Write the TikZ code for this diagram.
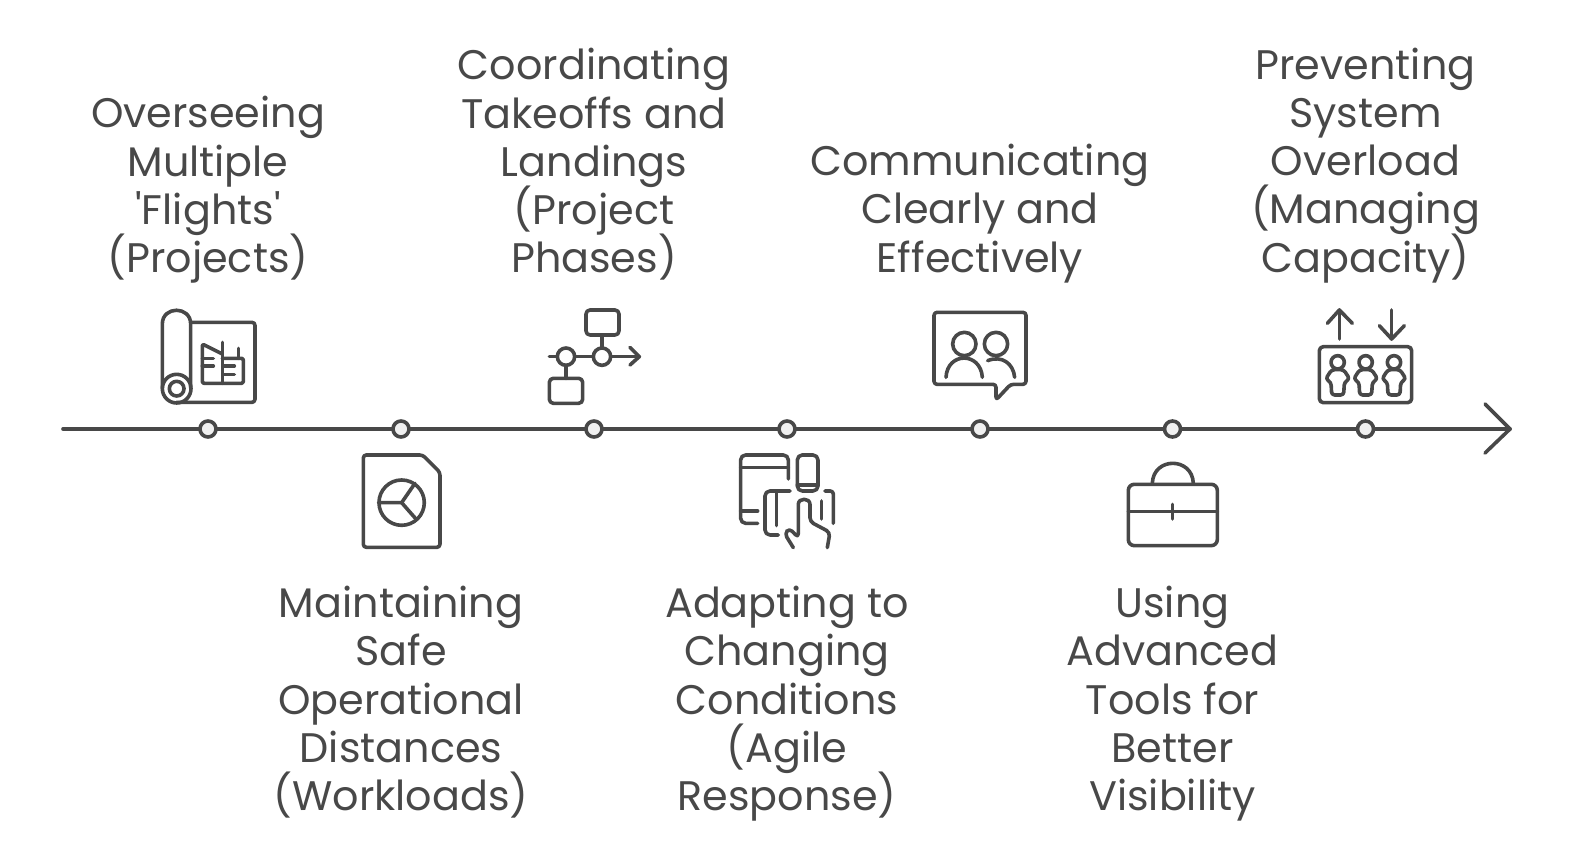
\documentclass[tikz,border=0pt]{standalone}
\usepackage{fontspec}
\newfontfamily\itemfont{Poppins}
\definecolor{myink}{RGB}{72,72,72}
\definecolor{mydot}{RGB}{240,240,240}
\newcommand{\itemsize}{\itemfont\fontsize{41.3}{48.2}\selectfont\lineskiplimit=-30pt\relax}
\tikzset{
  itemtext/.style={align=center,inner sep=0pt,text=myink,font=\itemsize},
  icon/.style 2 args={shift={(#1,#2)},x=0.3333pt,y=-0.3333pt},
  iconline/.style={draw=myink,line width=3.6pt,line cap=round,line join=round},
  tick/.style={circle,draw=myink,fill=mydot,line width=3.6pt,minimum size=16pt,inner sep=0pt}
}
\begin{document}
\begin{tikzpicture}[x=1pt,y=-1pt]
\useasboundingbox (0,0) rectangle (1578,850);

% timeline
\coordinate (axisstart) at (63,429);
\coordinate (axisend) at (1510,429);
\draw[iconline] (axisstart) -- (axisend);
\draw[iconline] (1485,404) -- (axisend) -- (1485,453);
\node[tick] (tickA) at (208,429) {};
\node[tick] (tickB) at (401,429) {};
\node[tick] (tickC) at (594,429) {};
\node[tick] (tickD) at (787,429) {};
\node[tick] (tickE) at (980,429) {};
\node[tick] (tickF) at (1172.5,429) {};
\node[tick] (tickG) at (1365.5,429) {};

% labels above
\node[itemtext,anchor=south] (textA) at (208,283.5) {Overseeing\\Multiple\\'Flights'\\(Projects)};
\node[itemtext,anchor=south] (textC) at (594,280.5) {Coordinating\\Takeoffs and\\Landings\\(Project\\Phases)};
\node[itemtext,anchor=south] (textE) at (980,283) {Communicating\\Clearly and\\Effectively};
\node[itemtext,anchor=south] (textG) at (1365.5,283) {Preventing\\System\\Overload\\(Managing\\Capacity)};

% labels below
\node[itemtext,anchor=north] (textB) at (401,586) {Maintaining\\Safe\\Operational\\Distances\\(Workloads)};
\node[itemtext,anchor=north] (textD) at (787,586) {Adapting to\\Changing\\Conditions\\(Agile\\Response)};
\node[itemtext,anchor=north] (textF) at (1172.5,586) {Using\\Advanced\\Tools for\\Better\\Visibility};

% blueprint
\begin{scope}[icon={140}{295}]
\draw[iconline] (67,280) -- (67,87) .. controls (67,32) and (152,32) .. (152,87) -- (152,280);
\draw[iconline] (110,281) circle[radius=43];
\draw[iconline] (110,281) circle[radius=22];
\draw[iconline,rounded corners=3pt] (152,82) -- (345,82) -- (345,322) -- (110,322);
\draw[iconline,rounded corners=1.5pt] (247,177) -- (187,147) -- (187,265) -- (310,265) -- (310,190) -- (247,190);
\draw[iconline] (247,142) -- (247,265);
\draw[iconline] (295,160) -- (295,190);
\draw[iconline] (187,190) -- (220,190);
\draw[iconline] (187,213) -- (220,213);
\draw[iconline] (250,213) -- (283,213);
\draw[iconline] (250,238) -- (283,238);
\end{scope}

% document with pie chart
\begin{scope}[icon={140}{295}]
\draw[iconline,rounded corners=3pt] (670,480) -- (848,480) -- (900,532) -- (900,757) -- (670,757) -- cycle;
\draw[iconline] (785,623) circle[radius=68];
\draw[iconline] (716,623) -- (785,623) -- (825,565);
\draw[iconline] (785,623) -- (828,672);
\end{scope}

% process flow
\begin{scope}[icon={530}{295}]
\draw[iconline,rounded corners=4pt] (168,45) rectangle (267,120);
\draw[iconline,rounded corners=4pt] (58,250) rectangle (158,325);
\draw[iconline] (216,120) -- (216,159);
\draw[iconline] (108,211) -- (108,250);
\draw[iconline] (216,185) circle[radius=26];
\draw[iconline] (108,185) circle[radius=26];
\draw[iconline] (58,185) -- (82,185);
\draw[iconline] (134,185) -- (190,185);
\draw[iconline] (242,185) -- (328,185);
\draw[iconline] (300,157) -- (328,185) -- (300,210);
\end{scope}

% devices and hand
\begin{scope}[icon={530}{295}]
\draw[iconline,rounded corners=5pt] (775,552) -- (775,480) -- (632,480) -- (632,685) -- (683,685);
\draw[iconline] (632,518) -- (775,518);
\draw[iconline] (632,648) -- (683,648);
\draw[iconline,rounded corners=5pt] (802,480) rectangle (864,588);
\draw[iconline] (802,570) -- (864,570);
\draw[iconline,rounded corners=5pt] (780,588) -- (705,588) -- (705,720) -- (745,720);
\draw[iconline] (740,590) -- (740,692);
\draw[iconline,rounded corners=3pt] (885,588) -- (910,588) -- (910,685);
\draw[iconline] (875,618) -- (875,672);
\draw[iconline,rounded corners=4pt] (790,758) -- (764,716) -- (778,700) -- (805,728) -- (805,640) .. controls (805,608) and (840,608) .. (840,640) -- (840,680) -- (900,712) -- (892,758);
\end{scope}

% speech bubble with people
\begin{scope}[icon={920}{295}]
\draw[iconline,rounded corners=3pt] (42,52) -- (318,52) -- (318,268) -- (272,268) -- (228,315) -- (228,268) -- (42,268) -- cycle;
\draw[iconline] (133,147) circle[radius=35];
\draw[iconline] (228,147) circle[radius=35];
\draw[iconline] (78,247) .. controls (82,170) and (182,170) .. (187,247);
\draw[iconline] (203,197) .. controls (245,180) and (280,205) .. (284,247);
\end{scope}

% briefcase
\begin{scope}[icon={920}{295}]
\draw[iconline] (697,565) .. controls (700,485) and (817,485) .. (820,565);
\draw[iconline,rounded corners=6pt] (625,568) rectangle (892,752);
\draw[iconline] (625,650) -- (892,650);
\draw[iconline] (758,628) -- (758,672);
\end{scope}

% capacity box
\begin{scope}[icon={1300}{295}]
\draw[iconline,rounded corners=4pt] (58,155) rectangle (335,323);
\draw[iconline] (118,132) -- (118,45);
\draw[iconline] (82,85) -- (118,45) -- (157,85);
\draw[iconline] (275,45) -- (275,132);
\draw[iconline] (238,92) -- (275,132) -- (313,92);
\foreach \px in {113,197,282}{
  \draw[iconline] (\px,202) circle[radius=20];
  \draw[iconline,rounded corners=3pt] (\px-18,224) -- (\px-36,252) -- (\px-20,262) -- (\px-18,300) -- (\px+18,300) -- (\px+20,262) -- (\px+36,252) -- (\px+18,224) -- cycle;
}
\end{scope}

\end{tikzpicture}
\end{document}
